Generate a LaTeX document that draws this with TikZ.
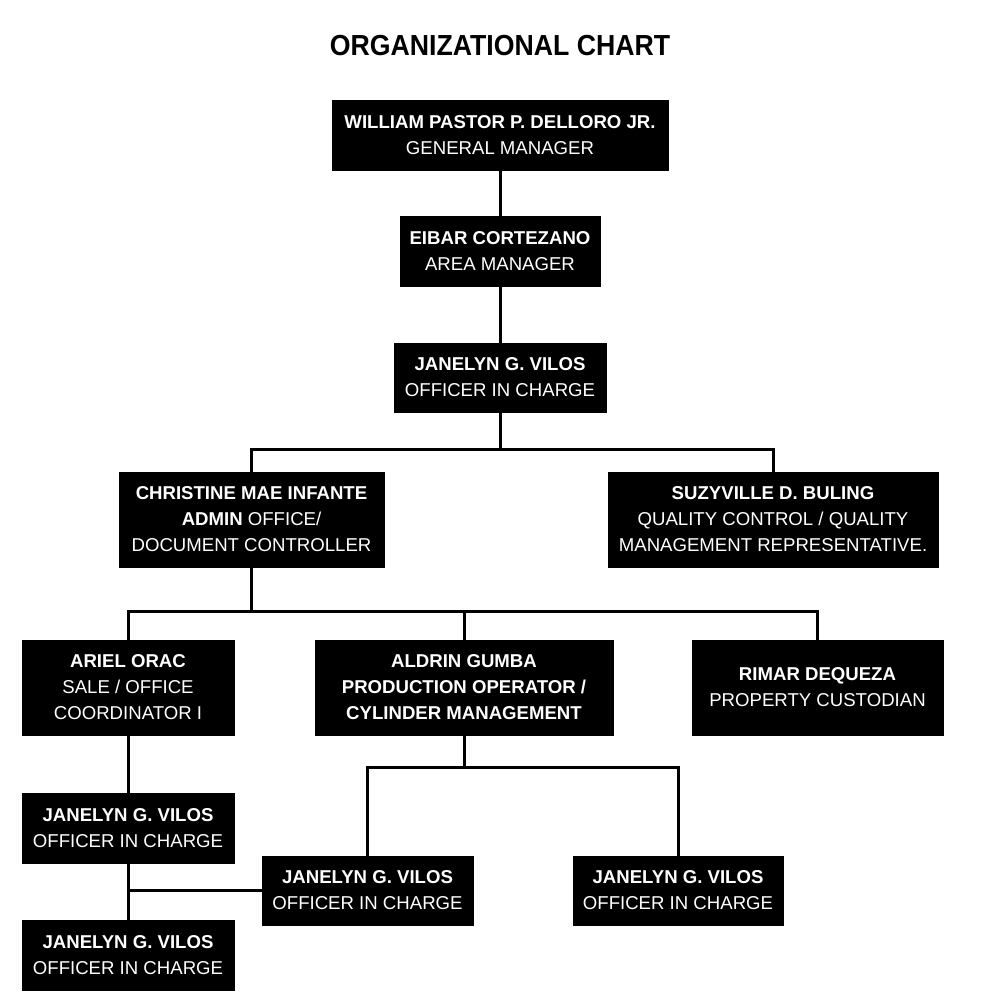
\documentclass[tikz,border=0pt]{standalone}
\usepackage{fontspec}
\setmainfont{Liberation Sans}
\newfontfamily\titlefont[FakeStretch=0.92]{Liberation Sans}
\usetikzlibrary{positioning}
\tikzset{box/.style={draw=black,fill=black,text=white,align=center,inner sep=0pt,font=\fontsize{18.6}{26}\selectfont}}
\tikzset{link/.style={draw=black,line width=3pt}}

\begin{document}
\begin{tikzpicture}[x=1pt,y=-1pt]
\useasboundingbox (0,0) rectangle (1000,1000);

% Title
\node[font=\titlefont\fontsize{29}{32}\bfseries\selectfont] (title) at (500,46) {ORGANIZATIONAL CHART};

% Top of the chain
\node[box,minimum width=336pt,minimum height=70pt] (gm) at (500,135) {\textbf{WILLIAM PASTOR P. DELLORO JR.}\\GENERAL MANAGER};
\node[box,minimum width=200pt,minimum height=70pt,below=46pt of gm] (am) {\textbf{EIBAR CORTEZANO}\\AREA MANAGER};
\node[box,minimum width=212pt,minimum height=69pt,below=56pt of am] (oic) {\textbf{JANELYN G. VILOS}\\OFFICER IN CHARGE};

% Second level
\node[box,minimum width=265pt,minimum height=95pt] (admin) at (251.5,519.5) {\textbf{CHRISTINE MAE INFANTE}\\\textbf{ADMIN} OFFICE/\\DOCUMENT CONTROLLER};
\node[box,minimum width=330pt,minimum height=95pt] (quality) at (773,519.5) {\textbf{SUZYVILLE D. BULING}\\QUALITY CONTROL / QUALITY\\MANAGEMENT REPRESENTATIVE.};

% Third level
\node[box,minimum width=212pt,minimum height=95pt] (sale) at (128,687.5) {\textbf{ARIEL ORAC}\\SALE / OFFICE\\COORDINATOR I};
\node[box,minimum width=298pt,minimum height=95pt] (prod) at (464,687.5) {\textbf{ALDRIN GUMBA}\\\textbf{PRODUCTION OPERATOR /}\\\textbf{CYLINDER MANAGEMENT}};
\node[box,minimum width=251pt,minimum height=95pt] (prop) at (817.5,687.5) {\textbf{RIMAR DEQUEZA}\\PROPERTY CUSTODIAN};

% Officers in charge below
\node[box,minimum width=212pt,minimum height=70pt,below=58pt of sale] (oicA) {\textbf{JANELYN G. VILOS}\\OFFICER IN CHARGE};
\node[box,minimum width=212pt,minimum height=70pt,below=56pt of oicA] (oicD) {\textbf{JANELYN G. VILOS}\\OFFICER IN CHARGE};
\node[box,minimum width=211pt,minimum height=69pt] (oicB) at (367.5,890.5) {\textbf{JANELYN G. VILOS}\\OFFICER IN CHARGE};
\node[box,minimum width=210pt,minimum height=69pt] (oicC) at (678,890.5) {\textbf{JANELYN G. VILOS}\\OFFICER IN CHARGE};

% Bus points
\coordinate (bus1) at (500,449);
\coordinate (bus2) at (251.5,611);
\coordinate (bus3) at (464,767);

% Draw lines
\path[link] (gm) -- (am);
\path[link] (am) -- (oic);
\path[link] (oic) -- (bus1);
\path[link] (admin.north) |- (bus1) -| (quality.north);
\path[link] (admin) -- (bus2);
\path[link] (sale.north) |- (bus2) -| (prop.north);
\path[link] (prod.north) -- (prod.north |- bus2);
\path[link] (prod) -- (bus3);
\path[link] (oicB.north) |- (bus3) -| (oicC.north);
\path[link] (sale) -- (oicA);
\path[link] (oicA) -- (oicD);
\path[link] (oicB.west) -- (oicB.west -| oicA.south);

\end{tikzpicture}
\end{document}
